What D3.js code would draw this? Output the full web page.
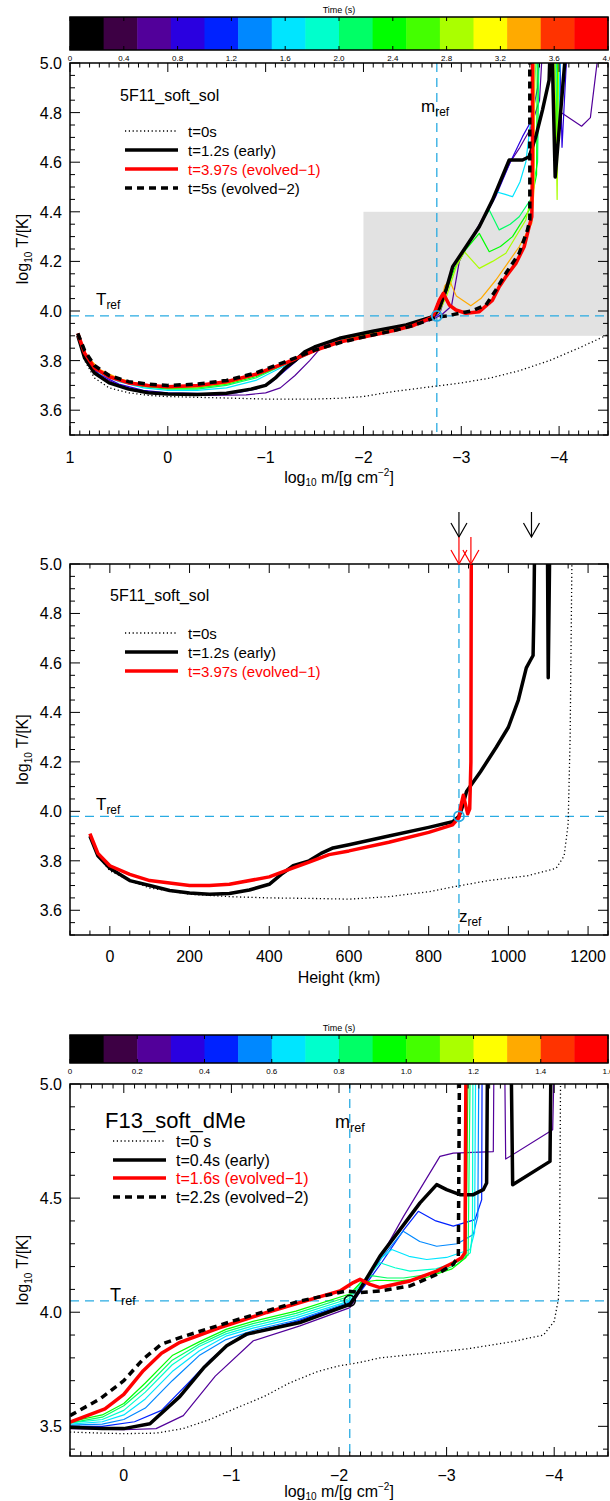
<!DOCTYPE html>
<html lang="en">
<head>
<meta charset="UTF-8" />
<script src="https://d3js.org/d3.v7.min.js"></script>
<style>
  body { margin: 0; background: #fff; }
  svg { font-family: "Liberation Sans", Arial, Helvetica, sans-serif; }
</style>
</head>
<body>
<div id="chart"></div>
<script>
// ---------- colour bar ----------
const cbColors = ['#000000', '#3d0044', '#52009a', '#2a00e0', '#0022ff', '#0088ff', '#00e5ff', '#00ffcc',
  '#00ff66', '#00ff00', '#44ff00', '#aaff00', '#ffff00', '#ffaa00', '#ff3300', '#ff0000']
const cb1Ticks = [0, 0.4, 0.8, 1.2, 1.6, 2.0, 2.4, 2.8, 3.2, 3.6, 4.0]
const cb1Labels = ['0', '0.4', '0.8', '1.2', '1.6', '2.0', '2.4', '2.8', '3.2', '3.6', '4.0']
const cb3Ticks = [0, 0.2, 0.4, 0.6, 0.8, 1.0, 1.2, 1.4, 1.6]
const cb3Labels = ['0', '0.2', '0.4', '0.6', '0.8', '1.0', '1.2', '1.4', '1.6']

// ---------- panel 1 : 5F11_soft_sol vs column mass ----------
const mref1 = -2.75, tref1 = 3.98
const grayBox = [[-2, 3.9], [-4.5, 4.4]]
const p1_t0 = [[0.92, 3.90], [0.85, 3.80], [0.75, 3.73], [0.6, 3.69], [0.4, 3.67], [0.2, 3.66], [0, 3.655], [-0.5, 3.65],
  [-1.0, 3.645], [-1.5, 3.645], [-1.75, 3.648], [-2.0, 3.655], [-2.3, 3.675], [-2.6, 3.69], [-3.0, 3.71], [-3.3, 3.73],
  [-3.6, 3.76], [-3.9, 3.80], [-4.2, 3.85], [-4.5, 3.905]]
const p1_early = [[0.92, 3.90], [0.85, 3.81], [0.75, 3.75], [0.6, 3.71], [0.4, 3.685], [0.2, 3.67], [0, 3.665], [-0.3, 3.663],
  [-0.6, 3.668], [-0.85, 3.685], [-1.0, 3.70], [-1.1, 3.73], [-1.2, 3.77], [-1.3, 3.80], [-1.4, 3.835], [-1.5, 3.855],
  [-1.755, 3.89], [-2.095, 3.918], [-2.436, 3.944], [-2.708, 3.977], [-2.776, 4.011], [-2.844, 4.085], [-2.912, 4.179],
  [-3.048, 4.259], [-3.184, 4.34], [-3.32, 4.448], [-3.49, 4.609], [-3.626, 4.609], [-3.694, 4.622], [-3.762, 4.703],
  [-3.83, 4.81], [-3.898, 4.931], [-3.92, 5.2], [-3.96, 4.54], [-4.1, 5.2]]
const p1_evo1 = [[0.92, 3.91], [0.85, 3.83], [0.75, 3.77], [0.6, 3.735], [0.4, 3.71], [0.2, 3.70], [0, 3.695], [-0.3, 3.70],
  [-0.6, 3.715], [-0.9, 3.745], [-1.2, 3.79], [-1.5, 3.84], [-1.755, 3.875], [-2.0, 3.895], [-2.3, 3.92], [-2.5, 3.94],
  [-2.708, 3.975], [-2.776, 4.044], [-2.816, 4.071], [-2.878, 4.024], [-2.946, 4.004], [-3.048, 3.991], [-3.184, 3.997],
  [-3.32, 4.044], [-3.388, 4.098], [-3.456, 4.138], [-3.558, 4.192], [-3.643, 4.259], [-3.694, 4.34], [-3.721, 4.38],
  [-3.728, 4.609], [-3.728, 5.2]]
const p1_evo2 = [[0.92, 3.91], [0.85, 3.84], [0.75, 3.78], [0.6, 3.74], [0.4, 3.715], [0.2, 3.705], [0, 3.70], [-0.3, 3.705],
  [-0.6, 3.72], [-0.9, 3.75], [-1.2, 3.795], [-1.5, 3.842], [-1.755, 3.872], [-2.0, 3.895], [-2.3, 3.92], [-2.5, 3.94],
  [-2.708, 3.97], [-2.776, 3.977], [-2.844, 3.98], [-3.116, 4.001], [-3.252, 4.024], [-3.354, 4.085], [-3.456, 4.152],
  [-3.592, 4.233], [-3.677, 4.327], [-3.701, 4.367], [-3.70, 5.2]]
const p1_purple = [[0.92, 3.90], [0.85, 3.81], [0.7, 3.74], [0.5, 3.70], [0.25, 3.675], [0, 3.665], [-0.4, 3.66], [-0.8, 3.662],
  [-1.0, 3.67], [-1.15, 3.69], [-1.3, 3.74], [-1.45, 3.80], [-1.55, 3.845], [-1.75, 3.878], [-2.1, 3.908], [-2.45, 3.935],
  [-2.7, 3.965], [-2.8, 3.985], [-2.9, 4.02], [-2.98, 4.2], [-3.05, 4.26], [-3.2, 4.36], [-3.35, 4.47], [-3.5, 4.6],
  [-3.6, 4.66], [-3.7, 4.73], [-3.8, 4.85], [-3.85, 5.2], [-3.93, 5.2], [-4.02, 4.80], [-4.23, 4.745], [-4.32, 4.78], [-4.45, 5.2]]
const p1_blue = [[0.92, 3.90], [0.85, 3.81], [0.7, 3.745], [0.5, 3.705], [0.25, 3.68], [0, 3.67], [-0.4, 3.667], [-0.7, 3.67],
  [-0.9, 3.685], [-1.05, 3.71], [-1.2, 3.76], [-1.35, 3.81], [-1.5, 3.845], [-1.75, 3.882], [-2.1, 3.912], [-2.45, 3.94],
  [-2.7, 3.97], [-2.78, 3.99], [-2.85, 4.08], [-2.92, 4.18], [-3.05, 4.26], [-3.2, 4.35], [-3.35, 4.46], [-3.5, 4.6],
  [-3.626, 4.703], [-3.71, 4.763], [-3.78, 4.9], [-3.82, 5.2], [-4.0, 5.2], [-4.03, 4.66], [-4.1, 5.2]]
const p1_cyan = [[0.92, 3.90], [0.85, 3.82], [0.7, 3.75], [0.5, 3.715], [0.25, 3.69], [0, 3.68], [-0.3, 3.68], [-0.6, 3.69],
  [-0.9, 3.72], [-1.2, 3.78], [-1.5, 3.838], [-1.755, 3.885], [-2.1, 3.915], [-2.45, 3.944], [-2.708, 3.977], [-2.776, 4.011],
  [-2.844, 4.085], [-2.912, 4.179], [-3.048, 4.259], [-3.184, 4.34], [-3.32, 4.448], [-3.354, 4.481], [-3.45, 4.47],
  [-3.524, 4.461], [-3.6, 4.52], [-3.66, 4.6], [-3.72, 4.8], [-3.81, 5.2], [-3.97, 5.2], [-3.99, 4.65], [-4.02, 5.2]]
const p1_spring = [[0.92, 3.90], [0.85, 3.82], [0.7, 3.755], [0.5, 3.72], [0.25, 3.695], [0, 3.685], [-0.3, 3.685], [-0.6, 3.70],
  [-0.9, 3.73], [-1.2, 3.785], [-1.5, 3.838], [-1.755, 3.88], [-2.1, 3.915], [-2.45, 3.944], [-2.708, 3.977], [-2.776, 4.011],
  [-2.844, 4.085], [-2.912, 4.179], [-3.048, 4.259], [-3.184, 4.34], [-3.286, 4.407], [-3.388, 4.327], [-3.5, 4.35],
  [-3.592, 4.38], [-3.71, 4.45], [-3.78, 4.6], [-3.80, 5.2], [-3.96, 5.2], [-3.98, 4.6], [-4.0, 5.2]]
const p1_green = [[0.92, 3.90], [0.85, 3.825], [0.7, 3.76], [0.5, 3.722], [0.25, 3.698], [0, 3.688], [-0.3, 3.69], [-0.6, 3.705],
  [-0.9, 3.735], [-1.2, 3.787], [-1.5, 3.838], [-1.755, 3.878], [-2.1, 3.912], [-2.45, 3.942], [-2.708, 3.976], [-2.78, 4.01],
  [-2.85, 4.08], [-2.93, 4.17], [-3.05, 4.25], [-3.184, 4.313], [-3.286, 4.239], [-3.4, 4.26], [-3.524, 4.30], [-3.694, 4.407],
  [-3.77, 4.55], [-3.78, 5.2], [-3.95, 5.2], [-3.975, 4.55], [-3.99, 5.2]]
const p1_ygreen = [[0.92, 3.90], [0.85, 3.826], [0.7, 3.762], [0.5, 3.725], [0.25, 3.70], [0, 3.69], [-0.3, 3.693], [-0.6, 3.708],
  [-0.9, 3.74], [-1.2, 3.788], [-1.5, 3.838], [-1.755, 3.876], [-2.1, 3.91], [-2.45, 3.94], [-2.708, 3.975], [-2.78, 4.0],
  [-2.85, 4.06], [-2.95, 4.18], [-3.031, 4.239], [-3.184, 4.172], [-3.32, 4.2], [-3.456, 4.233], [-3.66, 4.367], [-3.74, 4.5],
  [-3.76, 5.2], [-3.95, 5.2], [-3.98, 4.45], [-4.0, 5.2]]
const p1_orange = [[0.92, 3.90], [0.85, 3.828], [0.7, 3.765], [0.5, 3.728], [0.25, 3.702], [0, 3.692], [-0.3, 3.696], [-0.6, 3.71],
  [-0.9, 3.742], [-1.2, 3.789], [-1.5, 3.839], [-1.755, 3.876], [-2.1, 3.908], [-2.45, 3.938], [-2.708, 3.974], [-2.78, 4.0],
  [-2.83, 4.1], [-2.878, 4.125], [-2.95, 4.06], [-3.098, 4.021], [-3.2, 4.05], [-3.354, 4.125], [-3.592, 4.259], [-3.721, 4.354],
  [-3.745, 4.5], [-3.745, 5.2]]
const p1_thin = [
  { color: '#52009a', pts: p1_purple }, { color: '#2a00e0', pts: p1_blue }, { color: '#00e5ff', pts: p1_cyan },
  { color: '#00ff66', pts: p1_spring }, { color: '#00ff00', pts: p1_green }, { color: '#aaff00', pts: p1_ygreen },
  { color: '#ffaa00', pts: p1_orange }]

// ---------- panel 2 : 5F11_soft_sol vs height ----------
const zref2 = 876, tref2 = 3.98
const blackArrowKm = [876, 1058]
const redArrowKm = [876, 906]
const p2_t0 = [[-50, 3.90], [-30, 3.82], [0, 3.76], [50, 3.72], [100, 3.69], [200, 3.665], [300, 3.655], [400, 3.65], [500, 3.648],
  [600, 3.645], [700, 3.655], [800, 3.675], [880, 3.70], [950, 3.72], [1050, 3.74], [1120, 3.77], [1140, 3.82], [1150, 3.95],
  [1155, 4.3], [1160, 5.1]]
const p2_early = [[-50, 3.90], [-30, 3.82], [0, 3.77], [50, 3.72], [100, 3.70], [150, 3.68], [200, 3.67], [250, 3.665],
  [300, 3.668], [350, 3.682], [400, 3.705], [430, 3.745], [460, 3.78], [500, 3.80], [530, 3.83], [560, 3.852], [600, 3.865],
  [700, 3.90], [800, 3.935], [860, 3.958], [876, 3.98], [885, 4.02], [895, 4.08], [930, 4.16], [970, 4.26], [1000, 4.34],
  [1025, 4.45], [1045, 4.58], [1055, 4.61], [1062, 4.63], [1064, 4.8], [1066, 5.1], [1098, 5.1], [1100, 4.54], [1104, 5.1]]
const p2_evo1 = [[-50, 3.91], [-30, 3.83], [0, 3.78], [50, 3.745], [100, 3.72], [200, 3.70], [250, 3.70], [300, 3.705],
  [400, 3.735], [450, 3.765], [500, 3.795], [550, 3.825], [600, 3.84], [700, 3.875], [800, 3.915], [860, 3.945], [876, 3.975],
  [882, 4.03], [887, 4.065], [892, 4.03], [898, 3.99], [903, 4.01], [906, 4.2], [907, 5.1]]

// ---------- panel 3 : F13_soft_dMe vs column mass ----------
const mref3 = -2.1, tref3 = 4.05
const p3_t0 = [[0.5, 3.475], [0.2, 3.47], [0, 3.468], [-0.3, 3.47], [-0.55, 3.49], [-0.8, 3.53], [-1.02, 3.575], [-1.3, 3.63],
  [-1.54, 3.69], [-1.8, 3.74], [-2.0, 3.765], [-2.195, 3.78], [-2.38, 3.80], [-2.8, 3.82], [-3.2, 3.84], [-3.6, 3.87],
  [-3.9, 3.90], [-4.0, 3.96], [-4.04, 4.06], [-4.05, 4.3], [-4.06, 5.1]]
const p3_early = [[0.5, 3.496], [0.2, 3.49], [0, 3.49], [-0.243, 3.511], [-0.52, 3.63], [-0.75, 3.76], [-0.956, 3.853],
  [-1.142, 3.904], [-1.637, 3.955], [-2.102, 4.035], [-2.195, 4.10], [-2.381, 4.246], [-2.567, 4.362], [-2.753, 4.479],
  [-2.908, 4.559], [-3.0, 4.537], [-3.124, 4.515], [-3.248, 4.515], [-3.341, 4.537], [-3.372, 4.566], [-3.38, 5.1],
  [-3.6, 5.1], [-3.614, 4.559], [-3.961, 4.661], [-3.97, 5.1]]
const p3_evo1 = [[0.5, 3.518], [0.175, 3.576], [0, 3.64], [-0.181, 3.744], [-0.35, 3.82], [-0.522, 3.868], [-0.894, 3.933],
  [-1.328, 3.999], [-1.793, 4.064], [-2.009, 4.093], [-2.133, 4.13], [-2.195, 4.144], [-2.288, 4.122], [-2.381, 4.108],
  [-2.66, 4.137], [-2.908, 4.18], [-3.062, 4.217], [-3.14, 4.239], [-3.171, 4.261], [-3.18, 5.1]]
const p3_evo2 = [[0.5, 3.547], [0.221, 3.62], [0, 3.70], [-0.181, 3.795], [-0.35, 3.86], [-0.522, 3.889], [-1.018, 3.962],
  [-1.637, 4.049], [-2.071, 4.093], [-2.195, 4.086], [-2.381, 4.093], [-2.66, 4.115], [-2.908, 4.166], [-3.062, 4.21],
  [-3.109, 4.246], [-3.12, 5.1]]
const p3_purple = [[0.5, 3.49], [0, 3.485], [-0.3, 3.49], [-0.553, 3.547], [-0.85, 3.72], [-1.204, 3.875], [-1.637, 3.94],
  [-2.102, 4.02], [-2.288, 4.159], [-2.6, 4.42], [-2.938, 4.683], [-3.062, 4.697], [-3.434, 4.704], [-3.44, 5.1],
  [-3.54, 5.1], [-3.549, 4.671], [-3.986, 4.80], [-4.0, 5.1]]
const p3_blue = [[0.5, 3.50], [0.2, 3.50], [-0.1, 3.52], [-0.35, 3.57], [-0.6, 3.69], [-0.8, 3.79], [-1.0, 3.87], [-1.2, 3.91],
  [-1.6, 3.96], [-2.1, 4.04], [-2.2, 4.09], [-2.4, 4.22], [-2.6, 4.36], [-2.737, 4.442], [-2.9, 4.40], [-3.062, 4.377],
  [-3.264, 4.406], [-3.326, 4.493], [-3.33, 5.1]]
const p3_azure = [[0.5, 3.505], [0.2, 3.51], [0, 3.53], [-0.2, 3.58], [-0.45, 3.70], [-0.7, 3.81], [-0.95, 3.88], [-1.2, 3.92],
  [-1.6, 3.965], [-2.1, 4.045], [-2.2, 4.10], [-2.4, 4.24], [-2.597, 4.355], [-2.75, 4.31], [-2.908, 4.289], [-3.1, 4.30],
  [-3.248, 4.341], [-3.29, 4.42], [-3.30, 5.1]]
const p3_cyan = [[0.5, 3.51], [0.2, 3.52], [0, 3.55], [-0.2, 3.62], [-0.45, 3.74], [-0.7, 3.83], [-0.95, 3.895], [-1.2, 3.93],
  [-1.6, 3.975], [-2.1, 4.05], [-2.2, 4.10], [-2.35, 4.22], [-2.49, 4.275], [-2.65, 4.245], [-2.815, 4.231], [-3.0, 4.24],
  [-3.218, 4.275], [-3.26, 4.35], [-3.27, 5.1]]
const p3_aqua = [[0.5, 3.515], [0.2, 3.53], [0, 3.57], [-0.2, 3.65], [-0.45, 3.77], [-0.7, 3.85], [-0.95, 3.905], [-1.2, 3.94],
  [-1.6, 3.985], [-2.1, 4.06], [-2.25, 4.15], [-2.381, 4.217], [-2.52, 4.195], [-2.66, 4.18], [-2.9, 4.19], [-3.1, 4.22],
  [-3.22, 4.26], [-3.24, 4.35], [-3.245, 5.1]]
const p3_spring = [[0.5, 3.515], [0.2, 3.54], [0, 3.59], [-0.2, 3.67], [-0.45, 3.79], [-0.7, 3.86], [-0.95, 3.915], [-1.2, 3.95],
  [-1.6, 3.995], [-2.1, 4.07], [-2.2, 4.13], [-2.3, 4.16], [-2.45, 4.15], [-2.6, 4.15], [-2.9, 4.17], [-3.1, 4.21],
  [-3.2, 4.25], [-3.22, 5.1]]
const p3_green = [[0.5, 3.52], [0.2, 3.55], [0, 3.60], [-0.2, 3.69], [-0.45, 3.81], [-0.7, 3.87], [-0.95, 3.925], [-1.2, 3.96],
  [-1.6, 4.005], [-2.1, 4.08], [-2.2, 4.13], [-2.35, 4.14], [-2.567, 4.137], [-2.8, 4.15], [-3.05, 4.19], [-3.18, 4.24],
  [-3.2, 5.1]]
const p3_thin = [
  { color: '#52009a', pts: p3_purple }, { color: '#0022ff', pts: p3_blue }, { color: '#0088ff', pts: p3_azure },
  { color: '#00e5ff', pts: p3_cyan }, { color: '#00ffcc', pts: p3_aqua }, { color: '#00ff66', pts: p3_spring },
  { color: '#00ff00', pts: p3_green }]

// ---------- axes ticks ----------
const p1xMajor = [1, 0, -1, -2, -3, -4]
const p1yMajor = [3.6, 3.8, 4.0, 4.2, 4.4, 4.6, 4.8, 5.0]
const p2xMajor = [0, 200, 400, 600, 800, 1000, 1200]
const p3xMajor = [0, -1, -2, -3, -4]
const p3yMajor = [3.5, 4.0, 4.5, 5.0]

const refBlue = '#29abe2'
const W = 610, H = 1501
const svg = d3.select('#chart').append('svg').attr('width', W).attr('height', H)
const L = 70, R = 608

function colorbar(y0, h, tmax, ticks, labels) {
  const x = d3.scaleLinear().domain([0, tmax]).range([L, R])
  const g = svg.append('g')
  const n = cbColors.length
  g.selectAll('rect.c').data(cbColors).join('rect')
    .attr('x', (d, i) => x(i * tmax / n)).attr('y', y0)
    .attr('width', (d, i) => x((i + 1) * tmax / n) - x(i * tmax / n) + 0.5).attr('height', h)
    .attr('fill', d => d)
  g.append('rect').attr('x', L).attr('y', y0).attr('width', R - L).attr('height', h)
    .attr('fill', 'none').attr('stroke', '#000').attr('stroke-width', 1.5)
  ticks.forEach((t, i) => {
    g.append('line').attr('x1', x(t)).attr('x2', x(t)).attr('y1', y0).attr('y2', y0 + 4).attr('stroke', '#000')
    g.append('line').attr('x1', x(t)).attr('x2', x(t)).attr('y1', y0 + h).attr('y2', y0 + h - 4).attr('stroke', '#000')
    g.append('text').attr('x', x(t)).attr('y', y0 + h + 11).attr('text-anchor', 'middle')
      .attr('font-size', 8).text(labels[i])
  })
  g.append('text').attr('x', (L + R) / 2).attr('y', y0 - 4).attr('text-anchor', 'middle')
    .attr('font-size', 9).text('Time (s)')
}

function panel(o) {
  const x = d3.scaleLinear().domain(o.xd).range([L, R])
  const y = d3.scaleLinear().domain(o.yd).range([o.bottom, o.top])
  const g = svg.append('g')
  const id = 'clip' + o.top
  svg.append('clipPath').attr('id', id).append('rect')
    .attr('x', L).attr('y', o.top).attr('width', R - L).attr('height', o.bottom - o.top)
  const plot = g.append('g').attr('clip-path', `url(#${id})`)
  const ax = g.append('g').attr('stroke', '#000').attr('stroke-width', 1)
  o.xMinor.forEach(v => {
    const big = o.xMajor.some(m => Math.abs(m - v) < 1e-6)
    const len = big ? 9 : 4.5
    ax.append('line').attr('x1', x(v)).attr('x2', x(v)).attr('y1', o.bottom).attr('y2', o.bottom - len)
    ax.append('line').attr('x1', x(v)).attr('x2', x(v)).attr('y1', o.top).attr('y2', o.top + len)
  })
  o.yMinor.forEach(v => {
    const big = o.yMajor.some(m => Math.abs(m - v) < 1e-6)
    const len = big ? 10 : 5
    ax.append('line').attr('y1', y(v)).attr('y2', y(v)).attr('x1', L).attr('x2', L + len)
    ax.append('line').attr('y1', y(v)).attr('y2', y(v)).attr('x1', R).attr('x2', R - len)
  })
  o.xMajor.forEach(v => {
    g.append('text').attr('x', x(v)).attr('y', o.bottom + o.lab).attr('text-anchor', 'middle')
      .attr('font-size', 16).text(o.xFmt(v))
  })
  o.yMajor.forEach(v => {
    g.append('text').attr('x', L - 8).attr('y', y(v) + 6).attr('text-anchor', 'end')
      .attr('font-size', 16).text(v.toFixed(1))
  })
  // y title
  const yt = g.append('text').attr('transform', `translate(28,${(o.top + o.bottom) / 2}) rotate(-90)`)
    .attr('text-anchor', 'middle').attr('font-size', 16)
  yt.append('tspan').text('log')
  yt.append('tspan').attr('font-size', 10).attr('dy', 4).text('10')
  yt.append('tspan').attr('dy', -4).text(' T/[K]')
  return { x, y, g, plot, ax }
}

function xTitleMass(g, yb) {
  const t = g.append('text').attr('x', 339).attr('y', yb).attr('text-anchor', 'middle').attr('font-size', 16)
  t.append('tspan').text('log')
  t.append('tspan').attr('font-size', 10).attr('dy', 3).text('10')
  t.append('tspan').attr('dy', -3).text(' m/[g cm')
  t.append('tspan').attr('font-size', 10).attr('dy', -7).text('−2')
  t.append('tspan').attr('dy', 7).text(']')
}

function sublabel(g, xx, yb, main, sub, fs) {
  const t = g.append('text').attr('x', xx).attr('y', yb).attr('font-size', fs)
  t.append('tspan').text(main)
  t.append('tspan').attr('font-size', fs * 0.7).attr('dy', 4).text(sub)
}

function curve(P, pts, color, w, dash) {
  const line = d3.line().x(d => P.x(d[0])).y(d => P.y(d[1]))
  const p = P.plot.append('path').attr('d', line(pts)).attr('fill', 'none')
    .attr('stroke', color).attr('stroke-width', w).attr('stroke-linejoin', 'round')
  if (dash) p.attr('stroke-dasharray', dash)
}

function refLines(P, xv, yv) {
  P.plot.append('line').attr('x1', P.x(xv)).attr('x2', P.x(xv)).attr('y1', P.y.range()[1]).attr('y2', P.y.range()[0])
    .attr('stroke', refBlue).attr('stroke-width', 1.3).attr('stroke-dasharray', '9,6')
  P.plot.append('line').attr('y1', P.y(yv)).attr('y2', P.y(yv)).attr('x1', L).attr('x2', R)
    .attr('stroke', refBlue).attr('stroke-width', 1.3).attr('stroke-dasharray', '9,6')
}

function legend(g, x0, rows, fs) {
  rows.forEach(r => {
    const l = g.append('line').attr('x1', x0).attr('x2', x0 + 53).attr('y1', r.y).attr('y2', r.y)
      .attr('stroke', r.color).attr('stroke-width', r.w)
    if (r.dash) l.attr('stroke-dasharray', r.dash)
    g.append('text').attr('x', x0 + 63).attr('y', r.y + 5.5).attr('font-size', fs).attr('fill', r.tc || '#000').text(r.text)
  })
}

const mFmt = v => (v < 0 ? '−' + (-v) : String(v))
const DOT = '1.2,2.6', DASH = '7,5'
const THICK = 3.5

// ================= PANEL 1 =================
colorbar(17, 33, 4.0, cb1Ticks, cb1Labels)
const P1 = panel({
  top: 63, bottom: 435, xd: [1, -4.5], yd: [3.5, 5.0], lab: 28,
  xMajor: p1xMajor, xMinor: d3.range(-45, 11).map(i => i / 10),
  yMajor: p1yMajor, yMinor: d3.range(70, 101).map(i => i / 20), xFmt: mFmt
})
P1.plot.append('rect').attr('x', P1.x(grayBox[0][0])).attr('y', P1.y(grayBox[1][1]))
  .attr('width', P1.x(grayBox[1][0]) - P1.x(grayBox[0][0])).attr('height', P1.y(grayBox[0][1]) - P1.y(grayBox[1][1]))
  .attr('fill', '#e2e2e2')
refLines(P1, mref1, tref1)
p1_thin.forEach(c => curve(P1, c.pts, c.color, 1.2))
curve(P1, p1_t0, '#000', 1.3, DOT)
curve(P1, p1_early, '#000', THICK)
curve(P1, p1_evo1, '#ff0000', THICK)
curve(P1, p1_evo2, '#000', THICK, DASH)
P1.plot.append('circle').attr('cx', P1.x(mref1)).attr('cy', P1.y(tref1)).attr('r', 5)
  .attr('fill', 'none').attr('stroke', refBlue).attr('stroke-width', 1.8)
xTitleMass(P1.g, 483)
P1.g.append('text').attr('x', 120).attr('y', 101).attr('font-size', 16).text('5F11_soft_sol')
legend(P1.g, 125, [
  { y: 131, color: '#000', w: 1.3, dash: DOT, text: 't=0s' },
  { y: 150, color: '#000', w: 3.5, text: 't=1.2s (early)' },
  { y: 169, color: '#ff0000', w: 3.5, text: 't=3.97s (evolved−1)', tc: '#ff0000' },
  { y: 188, color: '#000', w: 3.5, dash: DASH, text: 't=5s (evolved−2)' }], 15)
sublabel(P1.g, 421, 112, 'm', 'ref', 17)
sublabel(P1.g, 96, 305, 'T', 'ref', 17)

// ================= PANEL 2 =================
const P2 = panel({
  top: 564, bottom: 935, xd: [-100, 1250], yd: [3.5, 5.0], lab: 27,
  xMajor: p2xMajor, xMinor: d3.range(-2, 26).map(i => i * 50),
  yMajor: p1yMajor, yMinor: d3.range(70, 101).map(i => i / 20), xFmt: v => String(v)
})
refLines(P2, zref2, tref2)
curve(P2, p2_t0, '#000', 1.3, DOT)
curve(P2, p2_early, '#000', THICK)
curve(P2, p2_evo1, '#ff0000', THICK)
P2.plot.append('circle').attr('cx', P2.x(zref2)).attr('cy', P2.y(tref2)).attr('r', 5)
  .attr('fill', 'none').attr('stroke', refBlue).attr('stroke-width', 1.8)
P2.g.append('text').attr('x', 339).attr('y', 983).attr('text-anchor', 'middle').attr('font-size', 16).text('Height (km)')
P2.g.append('text').attr('x', 110).attr('y', 601).attr('font-size', 16).text('5F11_soft_sol')
legend(P2.g, 125, [
  { y: 633, color: '#000', w: 1.3, dash: DOT, text: 't=0s' },
  { y: 652, color: '#000', w: 3.5, text: 't=1.2s (early)' },
  { y: 671, color: '#ff0000', w: 3.5, text: 't=3.97s (evolved−1)', tc: '#ff0000' }], 15)
sublabel(P2.g, 96, 810, 'T', 'ref', 17)
sublabel(P2.g, 459, 922, 'z', 'ref', 17)
function arrow(xp, y1, y2, color) {
  const a = svg.append('g').attr('stroke', color).attr('stroke-width', 1.2).attr('fill', 'none')
  a.append('line').attr('x1', xp).attr('x2', xp).attr('y1', y1).attr('y2', y2)
  a.append('path').attr('d', `M${xp - 8},${y2 - 14}L${xp},${y2}L${xp + 8},${y2 - 14}`)
}
blackArrowKm.forEach(k => arrow(P2.x(k), 512, 537, '#000'))
redArrowKm.forEach(k => arrow(P2.x(k), 537, 564, '#ff0000'))

// ================= PANEL 3 =================
colorbar(1035, 28, 1.6, cb3Ticks, cb3Labels)
const P3 = panel({
  top: 1084, bottom: 1456, xd: [0.5, -4.5], yd: [3.37, 5.0], lab: 25,
  xMajor: p3xMajor, xMinor: d3.range(-45, 6).map(i => i / 10),
  yMajor: p3yMajor, yMinor: d3.range(34, 51).map(i => i / 10), xFmt: mFmt
})
refLines(P3, mref3, tref3)
p3_thin.forEach(c => curve(P3, c.pts, c.color, 1.2))
curve(P3, p3_t0, '#000', 1.3, DOT)
curve(P3, p3_early, '#000', THICK)
curve(P3, p3_evo1, '#ff0000', THICK)
curve(P3, p3_evo2, '#000', THICK, DASH)
P3.plot.append('circle').attr('cx', P3.x(mref3)).attr('cy', P3.y(tref3)).attr('r', 5.5)
  .attr('fill', 'none').attr('stroke', '#000').attr('stroke-width', 1.5)
xTitleMass(P3.g, 1497)
P3.g.append('text').attr('x', 105).attr('y', 1128).attr('font-size', 22).text('F13_soft_dMe')
legend(P3.g, 113, [
  { y: 1141, color: '#000', w: 1.3, dash: DOT, text: 't=0 s' },
  { y: 1160, color: '#000', w: 3.5, text: 't=0.4s (early)' },
  { y: 1178, color: '#ff0000', w: 3.5, text: 't=1.6s (evolved−1)', tc: '#ff0000' },
  { y: 1197, color: '#000', w: 3.5, dash: DASH, text: 't=2.2s (evolved−2)' }], 16)
sublabel(P3.g, 335, 1128, 'm', 'ref', 18)
sublabel(P3.g, 110, 1301, 'T', 'ref', 18)

// frames on top
;[P1, P2, P3].forEach(P => {
  P.g.append('rect').attr('x', L).attr('y', P.y.range()[1]).attr('width', R - L)
    .attr('height', P.y.range()[0] - P.y.range()[1]).attr('fill', 'none').attr('stroke', '#000').attr('stroke-width', 1.5)
})
</script>
</body>
</html>
